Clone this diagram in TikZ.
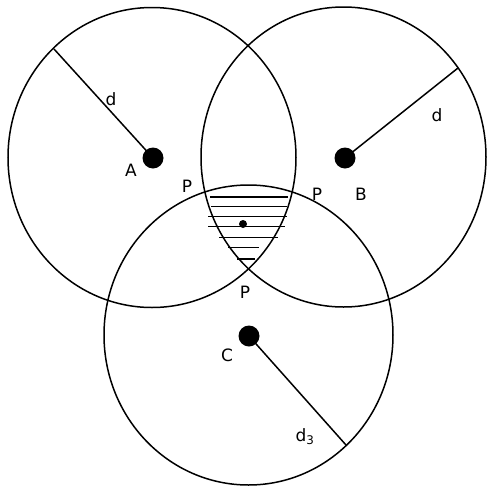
\documentclass[tikz,border=0pt]{standalone}
\usepackage{fontspec}
\setmainfont{DejaVu Sans}
\usetikzlibrary{positioning}
\tikzset{ring/.style={line width=1.5pt}, rad/.style={line width=1.5pt}, hatch/.style={line width=1.2pt}, bigdot/.style={circle, fill=black, inner sep=0pt, minimum width=21pt, minimum height=20pt}, smalldot/.style={circle, fill=black, inner sep=0pt, minimum size=8pt}, lab/.style={font=\fontsize{17}{20}\selectfont, inner sep=0pt}}

\begin{document}
\begin{tikzpicture}[x=1pt,y=-1pt]
\useasboundingbox (0,0) rectangle (488,488);
\node[bigdot] (A) at (153,158) {}; \node[bigdot] (B) at (345,158) {}; \node[bigdot] (C) at (249,336) {};
\draw[ring] (152,157.5) ellipse [x radius=144pt, y radius=150pt];
\draw[ring] (343.5,157) ellipse [x radius=142.5pt, y radius=150pt];
\draw[ring] (248.5,335) ellipse [x radius=144.5pt, y radius=150pt];
% hatched region
\foreach \yy/\xa/\xb in {197/210/288, 206.5/211/287, 216.5/208/287, 226.5/208/285, 237.5/219/278, 247.5/228/259, 259/237/255}
  \draw[hatch] (\xa,\yy) -- (\xb,\yy);
\node[smalldot] (X) at (243,224) {};
% radii
\coordinate (rA) at (54,49); \coordinate (rB) at (458,68); \coordinate (rC) at (346,445);
\draw[rad] (A.center) -- (rA); \draw[rad] (B.center) -- (rB); \draw[rad] (C.center) -- (rC);
\node[lab] (dA) at (111,99) {d}; \node[lab] (dB) at (437,115) {d}; \node[lab] (dC) at (305,437) {d\textsubscript{3}};
\node[lab] (lA) at (131,170) {A}; \node[lab] (lB) at (361,194) {B}; \node[lab] (lC) at (227,355) {C};
\node[lab] (P1) at (187,186) {P}; \node[lab] (P2) at (317,194) {P}; \node[lab] (P3) at (245,292) {P};
\end{tikzpicture}
\end{document}
